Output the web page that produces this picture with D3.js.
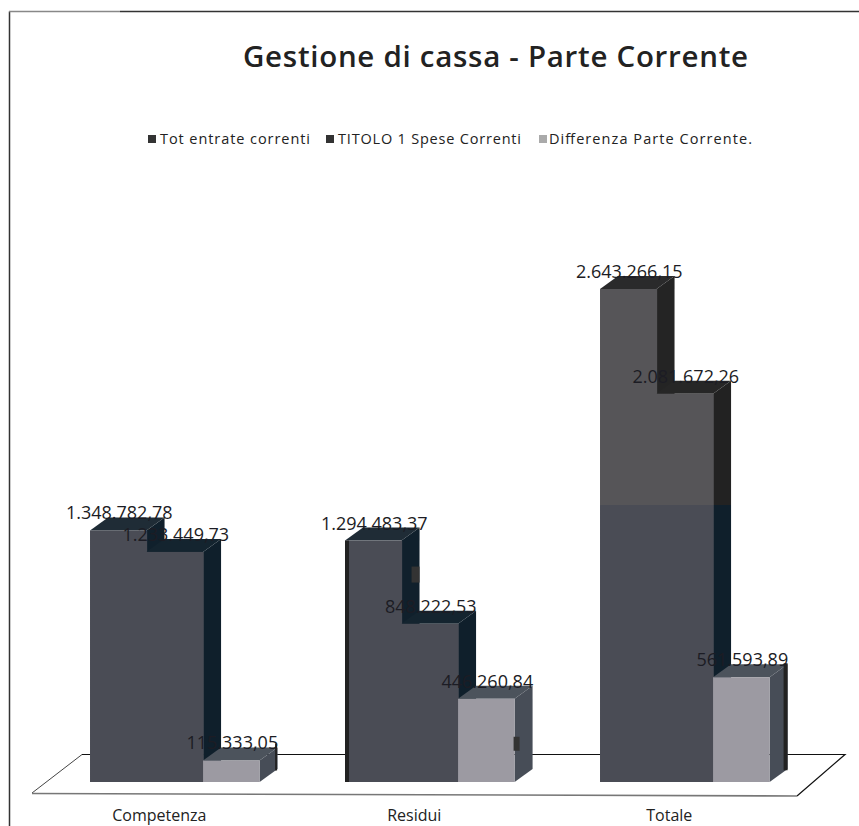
<!DOCTYPE html>
<html><head><meta charset="utf-8">
<script src="https://cdn.jsdelivr.net/npm/d3@7/dist/d3.min.js"></script>
<style>html,body{margin:0;padding:0;background:#fff;overflow:hidden}svg{display:block}text{font-family:"Open Sans",Lato,sans-serif}</style>
</head><body><div id="c"></div>
<script>
const chartTitle = "Gestione di cassa - Parte Corrente";
const categories = ["Competenza", "Residui", "Totale"];
const seriesNames = ["Tot entrate correnti", "TITOLO 1 Spese Correnti", "Differenza Parte Corrente."];
const totEntrate = [1348782.78, 1294483.37, 2643266.15];
const titolo1 = [1233449.73, 848222.53, 2081672.26];
const differenza = [115333.05, 446260.84, 561593.89];
const allSeries = [totEntrate, titolo1, differenza];

const W = 859, H = 826;
const svg = d3.select("#c").append("svg").attr("width", W).attr("height", H);
const defs = svg.append("defs");

const x0 = d3.scaleBand().domain(categories).range([47.3, 812.3]).paddingInner(0.335).paddingOuter(0.1675);
const x1 = d3.scaleBand().domain(d3.range(3)).range([0, x0.bandwidth()]);
const y = d3.scaleLinear().domain([0, 2643266.15]).range([782, 289]);
const depthX = 18, depthY = 13, scanY = 505;
const fmt = d3.formatLocale({decimal: ",", thousands: ".", grouping: [3], currency: ["", ""]}).format(",.2f");

const pal = [
  {front: ["#565558", "#4a4c55"], side: ["#242424", "#10202c"], top: ["#2a2a2b", "#1f2c36"]},
  {front: ["#565558", "#4a4c55"], side: ["#222222", "#0f1f2b"], top: ["#262626", "#14242f"]},
  {front: ["#9c9aa2", "#9c9aa2"], side: ["#474d57", "#474d57"], top: ["#4c535c", "#4c535c"]}
];
function grad(id, cols) {
  const g = defs.append("linearGradient").attr("id", id).attr("gradientUnits", "userSpaceOnUse")
    .attr("x1", 0).attr("x2", 0).attr("y1", 0).attr("y2", H);
  const p = scanY / H;
  [[0, cols[0]], [p, cols[0]], [p, cols[1]], [1, cols[1]]].forEach(s => g.append("stop").attr("offset", s[0]).attr("stop-color", s[1]));
}
pal.forEach((c, i) => ["front", "side", "top"].forEach(k => grad(k + i, c[k])));

// frame
svg.append("path").attr("d", "M9.5,826V11.5").attr("fill", "none").attr("stroke", "#333").attr("stroke-width", 1.5);
svg.append("path").attr("d", "M9,11.5H120").attr("fill", "none").attr("stroke", "#888").attr("stroke-width", 1.5);
svg.append("path").attr("d", "M120,11.5H859").attr("fill", "none").attr("stroke", "#333").attr("stroke-width", 1.3);

// title & legend
svg.append("text").attr("x", 243).attr("y", 67).attr("textLength", 505).attr("lengthAdjust", "spacing")
  .attr("font-size", 29.5).attr("font-weight", 600).attr("fill", "#222").text(chartTitle);
const legSq = [148, 326, 539], legTx = [160, 338, 549], legLen = [150, 183, 203];
const legend = svg.selectAll(".leg").data(seriesNames).join("g").attr("class", "leg");
legend.append("rect").attr("x", (d, i) => legSq[i]).attr("y", 135).attr("width", 8).attr("height", 8)
  .attr("fill", (d, i) => ["#333", "#333", "#aaa"][i]);
legend.append("text").attr("x", (d, i) => legTx[i]).attr("y", 144).attr("textLength", (d, i) => legLen[i]).attr("lengthAdjust", "spacing")
  .attr("font-size", 14.5).attr("fill", "#222").text(d => d);

// floor
svg.append("path").attr("d", "M82,754.5H845L797,796").attr("fill", "none").attr("stroke", "#111").attr("stroke-width", 1.2);
svg.append("path").attr("d", "M82,754.5L32,793").attr("fill", "none").attr("stroke", "#444").attr("stroke-width", 1);
svg.append("path").attr("d", "M32,793.5L797,796").attr("fill", "none").attr("stroke", "#777").attr("stroke-width", 1.6);

// bars
categories.forEach((cat, c) => {
  allSeries.forEach((vals, s) => {
    const l = x0(cat) + x1(s), r = l + x1.bandwidth(), t = y(vals[c]), b = y(0);
    const g = svg.append("g");
    g.append("path").attr("d", `M${r},${t}L${r + depthX},${t - depthY}V${b - depthY}L${r},${b}Z`).attr("fill", `url(#side${s})`);
    g.append("path").attr("d", `M${l},${t}L${l + depthX},${t - depthY}H${r + depthX}L${r},${t}Z`).attr("fill", `url(#top${s})`);
    g.append("rect").attr("x", l).attr("y", t).attr("width", r - l + (s < 2 ? 0.6 : 0)).attr("height", b - t).attr("fill", `url(#front${s})`);
  });
});

// scan specks and dark edges seen on the photocopy
const edge = (x, t, w, h, col) => svg.append("rect").attr("x", x).attr("y", t).attr("width", w).attr("height", h).attr("fill", col);
edge(x0("Residui"), y(totEntrate[1]), 4, y(0) - y(totEntrate[1]), "#222");
edge(x0("Residui") + x1.bandwidth() + 10, y(totEntrate[1]) + 26, 8, 16, "#333");
edge(x0("Totale") + x0.bandwidth() + 14, y(differenza[2]) - 14, 4, 107, "#222");
edge(x0("Competenza") + x0.bandwidth() + 15.5, y(differenza[0]) - 17, 2, 27, "#222");
edge(x0("Residui") + x0.bandwidth() - 1, y(differenza[1]) + 38, 6, 14, "#333");

// labels
categories.forEach((cat, c) => {
  allSeries.forEach((vals, s) => {
    svg.append("text").attr("x", x0(cat) + x1(s) + x1.bandwidth() / 2 + 1).attr("y", y(vals[c]) - 11)
      .attr("text-anchor", "middle").attr("font-size", 18).attr("fill", "#1c1c24").text(fmt(vals[c]));
  });
  svg.append("text").attr("x", x0(cat) + x0.bandwidth() / 2 - 15.5).attr("y", 821)
    .attr("text-anchor", "middle").attr("font-size", 16).attr("fill", "#222").text(cat);
});
</script></body></html>
